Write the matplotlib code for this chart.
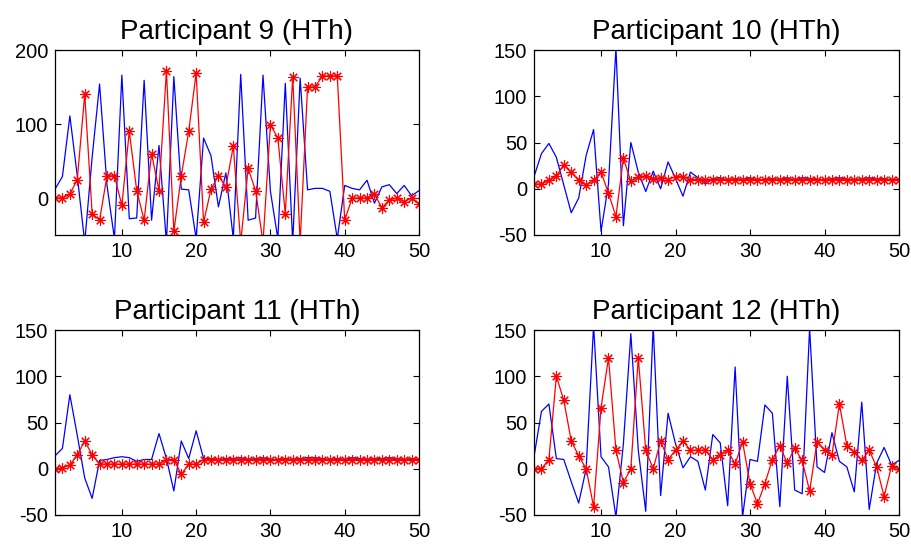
import numpy as np
import matplotlib
matplotlib.use('Agg')
from matplotlib import pyplot as plt

plt.rcParams['font.family'] = ['Liberation Sans', 'DejaVu Sans']
plt.rcParams['axes.unicode_minus'] = False

trials = np.arange(1, 51)

# participant 9
p9_blue = [12, 29, 111, 30, -60, 55, 154, 17, -55, 166,
           -28, -27, 159, -30, 71, -60, 164, 12, 11, -55,
           81, 57, -12, 34, -55, 167, -30, -27, 166, 9,
           -55, 155, -60, 162, 11, 13, 13, 9, -55, 17,
           13, 11, 24, -7, 15, 18, 6, 17, 3, 10]
p9_red = [0, 0, 5, 25, 140, -21, -30, 30, 30, -10,
          90, 10, -30, 60, 10, 172, -45, 30, 90, 169,
          -33, 12, 30, 15, 70, -60, 40, 10, -60, 99,
          81, -21, 164, -60, 150, 150, 165, 165, 165, -30,
          0, 0, 0, 5, -13, -3, 0, -5, 0, -8]

# participant 10
p10_blue = [13, 38, 49, 34, 4, -26, -10, 36, 64, -46,
            5, 152, -40, 50, 18, -3, 19, 0, 29, 11,
            -8, 18, 12, 5, 11, 12, 9, 11, 10, 12,
            9, 10, 11, 10, 12, 9, 12, 11, 10, 9,
            11, 12, 10, 9, 11, 12, 10, 11, 9, 10]
p10_red = [5, 5, 9, 14, 26, 18, 9, 4, 9, 18,
           -5, -30, 33, 8, 13, 14, 11, 12, 10, 13,
           13, 10, 10, 10, 10, 10, 10, 10, 10, 10,
           10, 10, 10, 10, 10, 10, 10, 10, 10, 10,
           10, 10, 10, 10, 10, 10, 10, 10, 10, 10]

# participant 11
p11_blue = [14, 22, 80, 36, -10, -32, 9, 10, 12, 13,
            12, 8, 10, 10, 38, 11, -24, 30, 11, 41,
            11, 11, 10, 11, 11, 12, 10, 11, 12, 10,
            10, 11, 10, 11, 12, 12, 11, 10, 11, 10,
            12, 11, 10, 11, 11, 12, 11, 10, 11, 10]
p11_red = [0, 1, 4, 15, 30, 15, 5, 5, 5, 5,
           5, 5, 5, 5, 5, 10, 10, -6, 5, 5,
           10, 10, 10, 10, 10, 10, 10, 10, 10, 10,
           10, 10, 10, 10, 10, 10, 10, 10, 10, 10,
           10, 10, 10, 10, 10, 10, 10, 10, 10, 10]

# participant 12
p12_blue = [13, 62, 70, 11, 10, -14, -37, 0, 155, 13,
            2, -52, 27, 146, 20, -46, 155, -29, 60, 27,
            1, 13, 8, -23, 37, 28, -40, 110, -52, 10,
            8, 69, 60, -41, 100, -23, -27, 152, 2, -4,
            39, 8, 2, -25, 72, -44, 6, 23, 4, 9]
p12_red = [0, 0, 10, 100, 74, 30, 14, 0, -41, 66,
           120, 20, -15, 0, 120, 20, 0, 30, 10, 20,
           30, 20, 20, 20, 10, 15, 20, 5, 29, -16,
           -38, -16, 10, 25, 6, 22, 9, -24, 29, 20,
           15, 70, 25, 18, 9, 20, 2, -30, 3, 0]

titles = ['Participant 9 (HTh)', 'Participant 10 (HTh)',
          'Participant 11 (HTh)', 'Participant 12 (HTh)']
blues = [p9_blue, p10_blue, p11_blue, p12_blue]
reds = [p9_red, p10_red, p11_red, p12_red]
ylims = [(-50, 200), (-50, 150), (-50, 150), (-50, 150)]
yticks = [[0, 100, 200], [-50, 0, 50, 100, 150],
          [-50, 0, 50, 100, 150], [-50, 0, 50, 100, 150]]

W, H = 911, 544
# axes boxes in pixels: left, top, right, bottom
boxes = [(55, 50, 419, 235), (534, 50, 899, 235),
         (55, 330, 419, 515), (534, 330, 899, 515)]

# 8-spoke asterisk like matlab's '*'
star = (8, 2, 0)

fig = plt.figure(figsize=(W / 100, H / 100), dpi=100)
for i in range(4):
    l, t, r, b = boxes[i]
    ax = fig.add_axes([l / W, 1 - b / H, (r - l) / W, (b - t) / H])
    ax.plot(trials, blues[i], color='blue', lw=0.9)
    ax.plot(trials, reds[i], color='red', lw=0.9, marker=star,
            markersize=7.5, markeredgewidth=0.8, markeredgecolor='red')
    ax.set_xlim(1, 50)
    ax.set_ylim(*ylims[i])
    ax.set_xticks([10, 20, 30, 40, 50])
    ax.set_yticks(yticks[i])
    ax.tick_params(direction='in', top=True, right=True, labelsize=14.5,
                   length=4, width=0.8, pad=5)
    for s in ax.spines.values():
        s.set_linewidth(0.9)
    ax.set_title(titles[i], fontsize=20, pad=8)

fig.savefig('out.png', dpi=100)
